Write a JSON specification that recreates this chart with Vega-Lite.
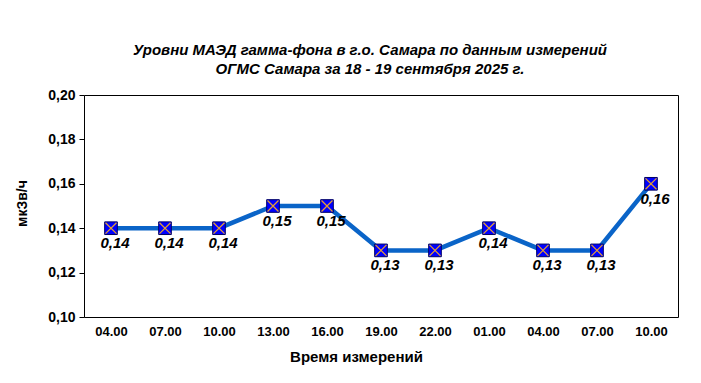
{
  "$schema": "https://vega.github.io/schema/vega-lite/v6.json",
  "width": 594,
  "height": 222,
  "autosize": "none",
  "padding": {"left": 84, "top": 95, "right": 23, "bottom": 66},
  "background": "white",
  "config": {
    "font": "Liberation Sans",
    "locale": {"number": {"decimal": ",", "thousands": " ", "grouping": [3], "currency": ["", ""]}},
    "view": {"stroke": "black", "strokeWidth": 1}
  },
  "title": {
    "text": ["Уровни МАЭД гамма-фона в г.о. Самара по данным измерений", "ОГМС Самара за 18 - 19 сентября 2025 г."],
    "font": "Liberation Sans",
    "fontSize": 15,
    "fontWeight": "bold",
    "fontStyle": "italic",
    "color": "black",
    "anchor": "middle",
    "dx": -11,
    "offset": 11,
    "lineHeight": 19
  },
  "data": {
    "values": [
      {"t": "18-04.00", "v": 0.14},
      {"t": "18-07.00", "v": 0.14},
      {"t": "18-10.00", "v": 0.14},
      {"t": "18-13.00", "v": 0.15},
      {"t": "18-16.00", "v": 0.15},
      {"t": "18-19.00", "v": 0.13},
      {"t": "18-22.00", "v": 0.13},
      {"t": "19-01.00", "v": 0.14},
      {"t": "19-04.00", "v": 0.13},
      {"t": "19-07.00", "v": 0.13},
      {"t": "19-10.00", "v": 0.16}
    ]
  },
  "encoding": {
    "x": {
      "field": "t",
      "type": "nominal",
      "sort": null,
      "scale": {"paddingInner": 0, "paddingOuter": 0},
      "axis": {
        "title": "Время измерений",
        "titleFont": "Liberation Sans",
        "titleFontSize": 15,
        "titleFontWeight": "bold",
        "titleColor": "black",
        "titleX": 272,
        "titleY": 44,
        "titleAnchor": "middle",
        "titleBaseline": "alphabetic",
        "labelExpr": "substring(datum.label, 3)",
        "labelAngle": 0,
        "labelFont": "Liberation Sans",
        "labelFontSize": 13,
        "labelFontWeight": "bold",
        "labelColor": "black",
        "labelPadding": 8,
        "ticks": false,
        "domain": false,
        "grid": false
      }
    },
    "y": {
      "field": "v",
      "type": "quantitative",
      "scale": {"domain": [0.1, 0.2], "nice": false, "zero": false},
      "axis": {
        "title": "мкЗв/ч",
        "titleFont": "Liberation Sans",
        "titleFontSize": 14,
        "titleFontWeight": "bold",
        "titleColor": "black",
        "titleAngle": -90,
        "titleX": -58,
        "titleY": 108,
        "titleAlign": "center",
        "titleBaseline": "alphabetic",
        "values": [0.1, 0.12, 0.14, 0.16, 0.18, 0.2],
        "format": ".2f",
        "labelFont": "Liberation Sans",
        "labelFontSize": 14,
        "labelFontWeight": "bold",
        "labelColor": "black",
        "labelPadding": 4,
        "tickSize": 5,
        "tickColor": "black",
        "domain": false,
        "grid": false
      }
    }
  },
  "layer": [
    {"mark": {"type": "line", "color": "#0A64C8", "strokeWidth": 4.5}},
    {"mark": {"type": "point", "shape": "square", "size": 160, "filled": true, "fill": "#0000FF", "stroke": "#000066", "strokeWidth": 1, "opacity": 1}},
    {"mark": {"type": "point", "shape": "M-1,-1L1,1M1,-1L-1,1", "size": 120, "filled": false, "stroke": "#E8A030", "strokeWidth": 1.2, "opacity": 1}},
    {
      "mark": {"type": "text", "dy": 15, "dx": 4, "font": "Liberation Sans", "fontSize": 15, "fontWeight": "bold", "fontStyle": "italic", "color": "black"},
      "encoding": {"text": {"field": "v", "type": "quantitative", "format": ".2f"}}
    }
  ]
}
